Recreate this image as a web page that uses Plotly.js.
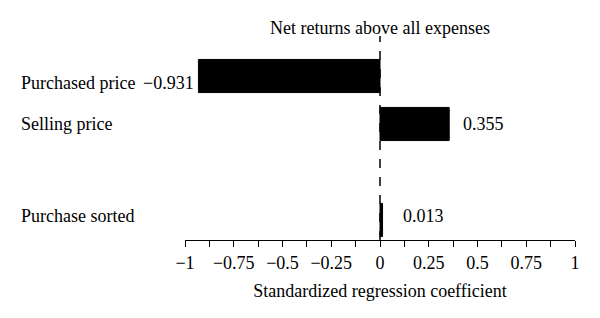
<!DOCTYPE html>
<html>
<head>
<meta charset="utf-8">
<script src="https://cdn.plot.ly/plotly-3.0.1.min.js"></script>
<style>html,body{margin:0;padding:0;background:#fff;}#chart{width:600px;height:318px;}</style>
</head>
<body>
<div id="chart"></div>
<script>
// Data
const categories = ["Purchased price", "Selling price", "Purchase sorted"];
const coefficients = [-0.931, 0.355, 0.013];
const valueLabels = ["\u22120.931", "0.355", "0.013"];
const categoryOrder = ["Purchase sorted", "gap", "Selling price", "Purchased price"];
const tickValues = [-1, -0.75, -0.5, -0.25, 0, 0.25, 0.5, 0.75, 1];
const tickLabels = ["\u22121", "\u22120.75", "\u22120.5", "\u22120.25", "0", "0.25", "0.5", "0.75", "1"];
const chartTitle = "Net returns above all expenses";
const xTitle = "Standardized regression coefficient";

const FONT = "Liberation Serif, Times New Roman, serif";
const FS = 18;

const trace = {
  type: "bar",
  orientation: "h",
  x: coefficients,
  y: categories,
  width: 0.69,
  marker: {color: "#000", line: {color: "#000", width: 1}},
  hoverinfo: "skip"
};

const annotations = [];
categories.forEach((c, i) => {
  annotations.push({
    xref: "paper", x: -185/390 + 19/390, xanchor: "left",
    yref: "y", y: c, yanchor: "middle",
    text: c, showarrow: false,
    font: {family: FONT, size: FS, color: "#000"},
    yshift: i === 0 ? -7 : (i === 2 ? 4 : 0)
  });
  const v = coefficients[i];
  annotations.push({
    xref: "x", x: v, xanchor: v < 0 ? "right" : "left",
    yref: "y", y: c, yanchor: "middle",
    text: valueLabels[i], showarrow: false,
    font: {family: FONT, size: FS, color: "#000"},
    xshift: v < 0 ? -2 : (Math.abs(v) < 0.05 ? 18 : 12),
    yshift: i === 0 ? -7 : (i === 2 ? 4 : 0)
  });
});

const layout = {
  width: 600, height: 318,
  margin: {l: 185, r: 25, t: 40, b: 78},
  paper_bgcolor: "#fff", plot_bgcolor: "#fff",
  showlegend: false,
  font: {family: FONT, size: FS, color: "#000"},
  title: {text: chartTitle, x: 380/600, xanchor: "center", y: 1 - 28/318, yanchor: "middle",
          font: {family: FONT, size: FS, color: "#000"}},
  xaxis: {
    range: [-1, 1], tickvals: tickValues, ticktext: tickLabels,
    showline: true, linecolor: "#000", linewidth: 1,
    ticks: "outside", ticklen: 6, tickcolor: "#000", tickwidth: 1,
    minor: {dtick: 0.125, tick0: 0, ticks: "outside", ticklen: 6, tickcolor: "#000", tickwidth: 1, showgrid: false},
    showgrid: false, zeroline: false,
    tickfont: {family: FONT, size: FS, color: "#000"},
    title: {text: xTitle, font: {family: FONT, size: FS, color: "#000"}, standoff: 12},
    fixedrange: true
  },
  yaxis: {
    type: "category", categoryorder: "array", categoryarray: categoryOrder,
    range: [-0.417, 3.75],
    showticklabels: false, showline: false, showgrid: false, zeroline: false, ticks: "",
    fixedrange: true
  },
  shapes: [{
    type: "line", xref: "x", x0: 0, x1: 0, yref: "paper", y0: 0, y1: 1.02,
    line: {color: "#000", width: 1.5, dash: "dash"}
  }],
  annotations: annotations
};

Plotly.newPlot("chart", [trace], layout, {displayModeBar: false, staticPlot: true});
</script>
</body>
</html>
